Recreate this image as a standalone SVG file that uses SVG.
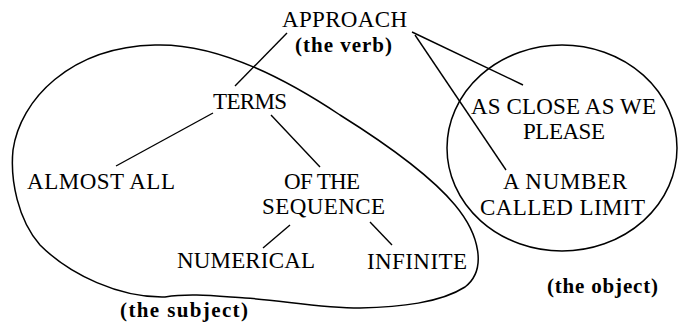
<svg xmlns="http://www.w3.org/2000/svg" width="679" height="326" viewBox="0 0 679 326">
<style>
.t{font-family:"Liberation Serif","Times New Roman",serif;font-size:23px;fill:#000;text-anchor:middle}
.b{font-family:"Liberation Serif","Times New Roman",serif;font-size:21px;font-weight:bold;fill:#000;text-anchor:middle}
.ln{stroke:#000;stroke-width:1.4;fill:none}
.sh{stroke:#000;stroke-width:1.5;fill:none}
</style>
<rect width="679" height="326" fill="#fff"/>
<g id="regions">
<path id="subject-region" class="sh" d="M 155,45 C 215,43 280,75 340,115 C 380,140 430,175 455,205 C 480,235 487,270 465,287 C 440,303 400,307 360,308 C 320,308 280,300 245,298 C 215,296 190,293 165,297 C 120,298 70,275 40,245 C 18,220 10,180 13,150 C 20,100 70,47 155,45 Z"/>
<ellipse id="object-region" class="sh" cx="562" cy="148" rx="115" ry="103"/>
</g>
<g id="connectors">
<line class="ln" x1="287" y1="33" x2="235" y2="86"/>
<line class="ln" x1="213" y1="113" x2="116" y2="166"/>
<line class="ln" x1="271" y1="115" x2="320" y2="167"/>
<line class="ln" x1="290" y1="225" x2="263" y2="248"/>
<line class="ln" x1="370" y1="222" x2="392" y2="245"/>
<line class="ln" x1="412" y1="32" x2="523" y2="85"/>
<line class="ln" x1="415" y1="35" x2="506" y2="170"/>
</g>
<g id="approach"><text class="t" x="344.5" y="27" textLength="125" lengthAdjust="spacing">APPROACH</text><text class="b" x="343.5" y="52" textLength="97" lengthAdjust="spacing">(the verb)</text></g>
<g id="terms"><text class="t" x="250" y="109" textLength="74" lengthAdjust="spacing">TERMS</text></g>
<g id="almost-all"><text class="t" x="101" y="189" textLength="148" lengthAdjust="spacing">ALMOST ALL</text></g>
<g id="of-the-sequence"><text class="t" x="322" y="189" textLength="76" lengthAdjust="spacing">OF THE</text><text class="t" x="323.5" y="214" textLength="123" lengthAdjust="spacing">SEQUENCE</text></g>
<g id="numerical"><text class="t" x="246" y="268" textLength="138" lengthAdjust="spacing">NUMERICAL</text></g>
<g id="infinite"><text class="t" x="417" y="269" textLength="100" lengthAdjust="spacing">INFINITE</text></g>
<g id="as-close"><text class="t" x="563.5" y="114" textLength="185" lengthAdjust="spacing">AS CLOSE AS WE</text><text class="t" x="564" y="139" textLength="82" lengthAdjust="spacing">PLEASE</text></g>
<g id="a-number"><text class="t" x="565" y="189" textLength="124" lengthAdjust="spacing">A NUMBER</text><text class="t" x="562.5" y="215" textLength="165" lengthAdjust="spacing">CALLED LIMIT</text></g>
<g id="labels"><text class="b" x="602.5" y="293" textLength="111" lengthAdjust="spacing">(the object)</text><text class="b" x="184" y="317" textLength="128" lengthAdjust="spacing">(the subject)</text></g>
</svg>
